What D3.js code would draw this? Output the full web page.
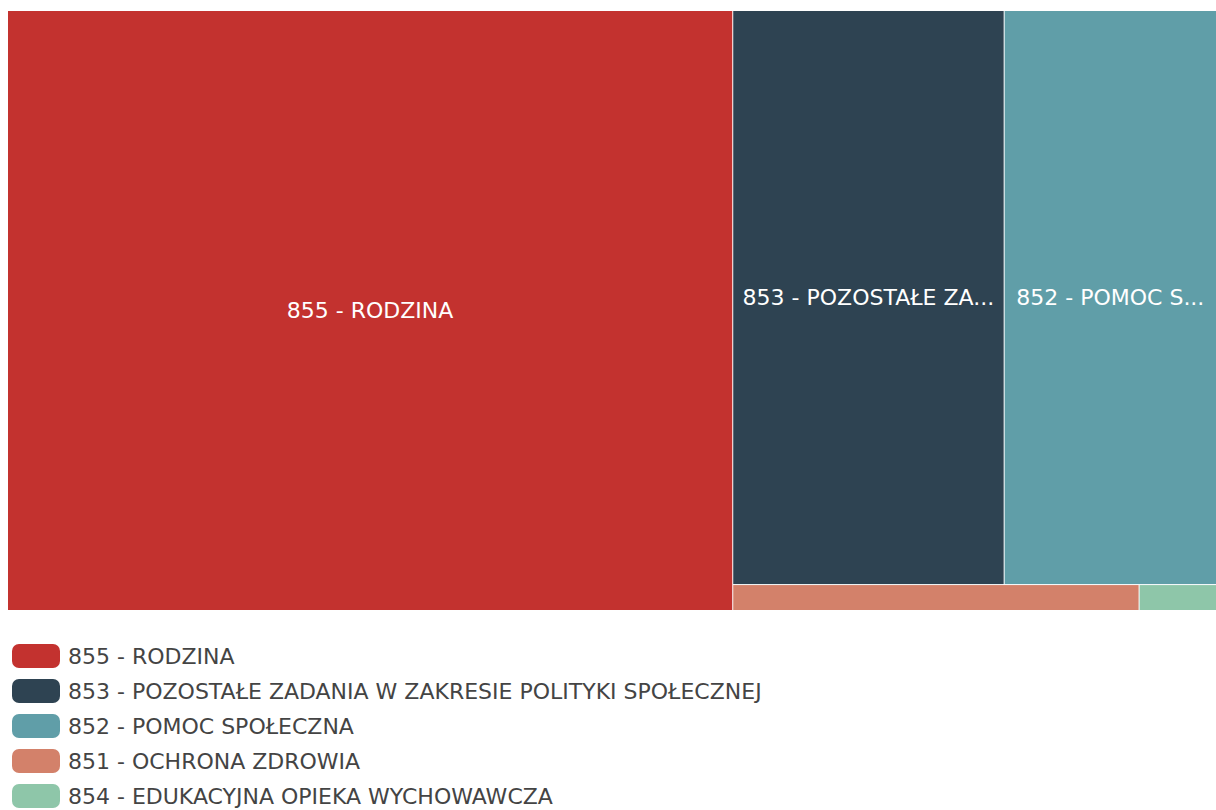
<!DOCTYPE html>
<html>
<head>
<meta charset="utf-8">
<script src="https://cdn.jsdelivr.net/npm/d3@7"></script>
<style>
  html, body { margin: 0; padding: 0; background: #ffffff; }
  svg { display: block; }
  text { font-family: "DejaVu Sans", "Open Sans", sans-serif; }
</style>
</head>
<body>
<svg id="chart" width="1216" height="810"></svg>
<script>
// Budget sections (dział) and their relative amounts
const categories = [
  "855 - RODZINA",
  "853 - POZOSTAŁE ZADANIA W ZAKRESIE POLITYKI SPOŁECZNEJ",
  "852 - POMOC SPOŁECZNA",
  "851 - OCHRONA ZDROWIA",
  "854 - EDUKACYJNA OPIEKA WYCHOWAWCZA"
];
const amounts = [433.7, 155.3, 121.5, 10.5, 2.0];
const colors = ["#C3322F", "#2E4352", "#609EA8", "#D3816A", "#8EC6A9"];

const svg = d3.select("#chart");

const box = { x0: 8, y0: 11, x1: 1216, y1: 610 };

const root = d3.hierarchy({ children: categories.map((name, i) => ({ name, value: amounts[i], i })) })
  .sum(d => d.value || 0)
  .sort((a, b) => b.value - a.value);

d3.treemap()
  .tile(d3.treemapSquarify)
  .size([box.x1 - box.x0, box.y1 - box.y0])
  .paddingInner(1)
  .round(false)(root);

const color = d3.scaleOrdinal().domain(categories).range(colors);

const cell = svg.append("g")
  .attr("transform", `translate(${box.x0},${box.y0})`)
  .selectAll("g")
  .data(root.leaves())
  .join("g")
  .attr("transform", d => `translate(${d.x0},${d.y0})`);

cell.append("rect")
  .attr("width", d => d.x1 - d.x0)
  .attr("height", d => d.y1 - d.y0)
  .attr("fill", d => color(d.data.name));

// Centered labels, shortened with an ellipsis when they do not fit
cell.each(function (d) {
  const w = d.x1 - d.x0, h = d.y1 - d.y0;
  if (h < 30) return;
  const t = d3.select(this).append("text")
    .attr("x", w / 2)
    .attr("y", h / 2)
    .attr("text-anchor", "middle")
    .attr("dominant-baseline", "central")
    .attr("fill", "#ffffff")
    .attr("font-size", 22)
    .text(d.data.name);
  const maxW = w - 16;
  const full = d.data.name;
  if (t.node().getComputedTextLength() > maxW) {
    let n = full.length;
    while (n > 0) {
      t.text(full.slice(0, n).trimEnd() + "...");
      if (t.node().getComputedTextLength() <= maxW) break;
      n--;
    }
  }
});

// Legend
const legend = svg.append("g");
const rowY = d3.scalePoint().domain(categories).range([656, 796]);
const item = legend.selectAll("g")
  .data(categories)
  .join("g")
  .attr("transform", d => `translate(0,${rowY(d)})`);

item.append("rect")
  .attr("x", 12).attr("y", -12)
  .attr("width", 48).attr("height", 24)
  .attr("rx", 7)
  .attr("fill", d => color(d));

item.append("text")
  .attr("x", 68).attr("y", 0)
  .attr("dominant-baseline", "central")
  .attr("fill", "#444444")
  .attr("font-size", 22)
  .text(d => d);
</script>
</body>
</html>
